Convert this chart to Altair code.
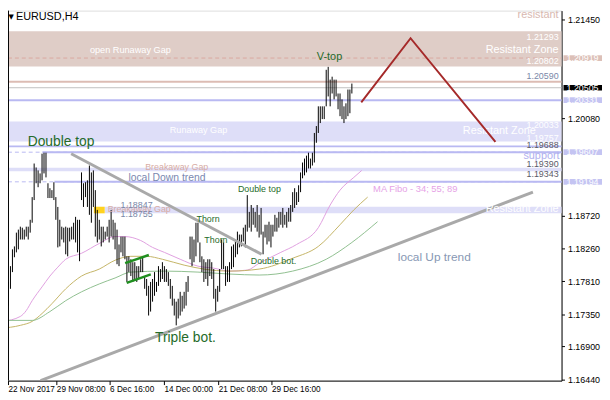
import altair as alt
import pandas as pd

# ---------------- data ----------------
high = [
1.17496,1.17606,1.17744,1.17799,1.18019,1.18253,1.18294,1.18486,1.18528,1.18569,
1.18555,1.18528,1.18569,1.18569,1.18665,1.18981,1.19449,1.19394,1.19353,1.19311,
1.19586,1.19600,1.19600,1.19174,1.19105,1.19078,1.19188,1.18981,1.18844,1.18665,
1.18569,1.18555,1.18569,1.18555,1.18555,1.18569,1.18624,1.18706,1.18665,1.18665,
1.19325,1.19174,1.19188,1.19215,1.19421,1.19325,1.19353,1.19078,1.18803,1.18665,
1.18569,1.18569,1.18500,1.18569,1.18665,1.18803,1.18665,1.18624,1.18528,1.18321,
1.18431,1.18431,1.18431,1.18156,1.18156,1.18115,1.18074,1.18074,1.18019,1.18019,
1.18115,1.18156,1.17881,1.17840,1.17744,1.17799,1.17840,1.17936,1.17799,1.18019,
1.17978,1.18074,1.18019,1.17978,1.17936,1.17840,1.17744,1.17565,1.17524,1.17565,
1.17661,1.17606,1.17661,1.17799,1.17881,1.18431,1.18431,1.18390,1.18624,1.18624,
1.18349,1.18156,1.18115,1.18074,1.18115,1.18115,1.18074,1.17978,1.17703,1.17744,
1.17978,1.18390,1.18349,1.18019,1.18019,1.18074,1.18294,1.18321,1.18363,1.18500,
1.18459,1.18459,1.18555,1.18596,1.19009,1.18775,1.18871,1.18830,1.18775,1.18871,
1.18734,1.18830,1.18500,1.18596,1.18596,1.18638,1.18596,1.18596,1.18734,1.18693,
1.18775,1.18775,1.18830,1.18734,1.18775,1.18830,1.18871,1.19050,1.19105,1.19050,
1.19146,1.19325,1.19463,1.19518,1.19559,1.19600,1.19518,1.19600,1.19875,1.19971,
1.20246,1.20246,1.20246,1.20246,1.20755,1.20796,1.20618,1.20659,1.20618,1.20618,
1.20425,1.20425,1.20343,1.20246,1.20288,1.20480,1.20480,1.20563]
low = [
1.17318,1.17386,1.17386,1.17469,1.17703,1.17936,1.18143,1.18211,1.18253,1.18390,
1.18390,1.18390,1.18431,1.18390,1.18486,1.18624,1.18940,1.19174,1.19119,1.19174,
1.19215,1.19311,1.19256,1.18968,1.18968,1.18968,1.18940,1.18665,1.18280,1.18294,
1.18390,1.18349,1.18184,1.18156,1.18363,1.18390,1.18390,1.18349,1.18211,1.18088,
1.18940,1.18844,1.18981,1.18844,1.18734,1.18624,1.18844,1.18431,1.18349,1.18390,
1.18294,1.18349,1.18390,1.18431,1.18349,1.18431,1.18390,1.18253,1.18046,1.18019,
1.18211,1.18156,1.18115,1.17799,1.17936,1.17881,1.17799,1.17840,1.17799,1.17840,
1.17936,1.17936,1.17703,1.17606,1.17331,1.17386,1.17524,1.17606,1.17661,1.17744,
1.17799,1.17840,1.17799,1.17799,1.17744,1.17565,1.17469,1.17331,1.17194,1.17290,
1.17331,1.17386,1.17428,1.17469,1.17661,1.18115,1.18019,1.18074,1.18156,1.18349,
1.18074,1.17936,1.17799,1.17840,1.17744,1.17881,1.17840,1.17565,1.17386,1.17524,
1.17661,1.17978,1.17978,1.17744,1.17799,1.17799,1.17978,1.18005,1.18143,1.18184,
1.18280,1.18294,1.18363,1.18280,1.18500,1.18555,1.18500,1.18596,1.18555,1.18500,
1.18418,1.18459,1.18184,1.18418,1.18321,1.18363,1.18280,1.18431,1.18500,1.18500,
1.18555,1.18596,1.18555,1.18596,1.18555,1.18638,1.18638,1.18775,1.18830,1.18871,
1.18913,1.19050,1.19243,1.19284,1.19325,1.19380,1.19380,1.19421,1.19463,1.19738,
1.19875,1.20013,1.20068,1.20068,1.20246,1.20384,1.20246,1.20425,1.20343,1.20384,
1.20205,1.20109,1.20068,1.20013,1.20068,1.20109,1.20150,1.20425]

# Moving averages (MA Fibo 34 / 55 / 89), read at bar indices
ma34_bar = [0, 9, 12, 15, 20, 24, 28, 32, 40, 49, 57, 62, 70, 76, 82, 90, 99, 107, 115, 124, 130, 141, 149, 160, 166, 171, 178, 182]
ma34_val = [1.17249, 1.17318, 1.17400, 1.17538, 1.17730, 1.17881, 1.18005, 1.18115, 1.18198, 1.18335, 1.18431, 1.18431, 1.18376, 1.18280,
            1.18211, 1.18115, 1.18019, 1.17991, 1.17950, 1.17964, 1.18060, 1.18211, 1.18321, 1.18555, 1.18871, 1.19078, 1.19256, 1.19353]
ma55_bar = [-1, 9, 15, 20, 25, 32, 40, 49, 57, 65, 73, 81, 92, 102, 115, 130, 147, 160, 171, 178, 185]
ma55_val = [1.17153, 1.17194, 1.17249, 1.17359, 1.17496, 1.17703, 1.17881, 1.17978, 1.18101, 1.18156, 1.18156, 1.18115, 1.18033, 1.17978,
            1.17950, 1.17978, 1.18129, 1.18294, 1.18596, 1.18803, 1.18981]
ma89_bar = [-1, 15, 24, 32, 40, 49, 57, 65, 82, 99, 115, 130, 147, 164, 177, 190]
ma89_val = [1.17263, 1.17263, 1.17386, 1.17538, 1.17661, 1.17771, 1.17854, 1.17936, 1.17950, 1.17936, 1.17909, 1.17895, 1.17950, 1.18115,
            1.18349, 1.18638]

# zones and levels
zone_top = [1.21293, 1.20033, 1.19390]
zone_bot = [1.20802, 1.19757, 1.19343]
zone_col = ["#dfcdc7", "#dedef8", "#dedef8"]
level_price = [1.20590, 1.20505, 1.20331, 1.19688]
level_col = ["#dcbcb4", "#c0c0c0", "#b9b9f2", "#b9b9f2"]
level_w = [2, 1, 2, 2]
dash_price = [1.20919, 1.19607, 1.19194]
dash_col = ["#d9a9a0", "#b9b9f2", "#b9b9f2"]
ray_price = [1.19607, 1.19194]
ray_start = [20.25, 26.25]
gap_hi, gap_lo = 1.18847, 1.18755
gap_start, gap_end = 46.25, 51.75

# right-side price tags
tag_price = [1.20919, 1.20505, 1.20331, 1.19607, 1.19194]
tag_col = ["#dcc0b8", "#000000", "#c4c4f2", "#c4c4f2", "#c4c4f2"]

# trend lines / drawings
down_bar, down_val = [34.75, 131.25], [1.19586, 1.18184]
up_bar, up_val = [19.25, 268.75], [1.16424, 1.19050]
flag_hi_bar, flag_hi_val = [62.1, 74.1], [1.18060, 1.18174]
flag_lo_bar, flag_lo_val = [62.9, 75.1], [1.17785, 1.17905]
proj_bar, proj_val = [181.75, 206.75, 249.75], [1.20301, 1.21195, 1.19751]

# axis labels
price_ticks = [1.2145, 1.2008, 1.1872, 1.1826, 1.1781, 1.1735, 1.1690, 1.1644]
date_bar = [2.75, 27.25, 54.25, 81.75, 109.25, 136.25]
date_text = ["22 Nov 2017", "29 Nov 08:00", "6 Dec 16:00", "14 Dec 00:00", "21 Dec 08:00", "29 Dec 16:00"]

GREEN = "#256b2a"
WHITE = "#ffffff"
SLATE = "#7a88a8"
DARK = "#5a5a68"
notes_left = [
    ("Double top", 12.75, 1.19751, GREEN, 14),
    ("Triple bot.", 77.25, 1.17015, GREEN, 14),
    ("V-top", 159.25, 1.20934, GREEN, 11),
    ("Double top", 119.25, 1.19091, GREEN, 9),
    ("Thorn", 98.25, 1.18679, GREEN, 9),
    ("Thorn", 102.25, 1.18376, GREEN, 9),
    ("Double bot.", 125.75, 1.18088, GREEN, 9),
    ("local Down trend", 63.75, 1.19243, "#7a88b0", 10.5),
    ("Breakaway Gap", 72.25, 1.19394, "#d8aca4", 9),
    ("Breakaway Gap", 53.25, 1.18816, "#d8aca4", 9),
    ("1.18847", 59.75, 1.18871, SLATE, 9),
    ("1.18755", 59.75, 1.18741, SLATE, 9),
    ("open Runaway Gap", 44.25, 1.21030, WHITE, 9.3),
    ("Runaway Gap", 84.75, 1.19909, WHITE, 9.2),
    ("Resistant Zone", 233.25, 1.19903, WHITE, 11),
    ("MA Fibo - 34; 55; 89", 187.75, 1.19091, "#e6a3e6", 9.5),
    ("local Up trend", 200.25, 1.18149, "#8898b4", 12),
]
notes_right = [
    ("Resistant Zone", 281.75, 1.21030, WHITE, 11),
    ("Resistant Zone", 281.75, 1.18809, WHITE, 11),
    ("resistant", 281.75, 1.21522, "#d8b8b0", 11),
    ("support", 282.25, 1.19555, "#b0b0ee", 11),
    ("1.21293", 281.75, 1.21213, WHITE, 9),
    ("1.20802", 281.75, 1.20879, WHITE, 9),
    ("1.20590", 281.75, 1.20663, SLATE, 9),
    ("1.20033", 281.75, 1.19985, WHITE, 9),
    ("1.19757", 281.75, 1.19810, WHITE, 9),
    ("1.19688", 281.75, 1.19706, DARK, 9),
    ("1.19390", 281.75, 1.19445, DARK, 9),
    ("1.19343", 281.75, 1.19307, DARK, 9),
]

# ---------------- chart ----------------
W, H = 561, 375
FONT = "Liberation Sans"
xs = alt.Scale(domain=[2.75, 283.25], nice=False, zero=False)
ys = alt.Scale(domain=[1.1642375, 1.2158], nice=False, zero=False)

AX = alt.Axis(
    values=date_bar, title=None, orient="bottom", grid=False,
    labelExpr="{" + ",".join(f"'{v}':'{t}'" for v, t in zip(date_bar, date_text)) + "}[''+datum.value]",
    labelAlign="left", labelPadding=0, tickSize=4, labelFont=FONT, labelFontSize=8.3,
    labelColor="black", tickColor="black", domainColor="black", labelFlush=False, labelOverlap=False)
AY = alt.Axis(
    values=price_ticks, format=".5f", orient="right", title=None, grid=False, tickSize=3,
    labelPadding=3, labelFont=FONT, labelFontSize=9, labelColor="black", tickColor="black",
    domainColor="black", labelFlush=False, labelOverlap=False)


def X(f="x"):
    return alt.X(f"{f}:Q", scale=xs, axis=AX)


def Y(f="y"):
    return alt.Y(f"{f}:Q", scale=ys, axis=AY)


bars_df = pd.DataFrame({"x": list(range(len(high))), "hi": high, "lo": low})

zones = alt.Chart(pd.DataFrame({"t": zone_top, "b": zone_bot, "c": zone_col})).mark_rect().encode(
    x=alt.value(0), x2=alt.value(W), y=Y("t"), y2="b:Q", color=alt.Color("c:N", scale=None))

gap_band = alt.Chart(pd.DataFrame({"x": [gap_end], "t": [gap_hi], "b": [gap_lo]})).mark_rect(color="#dedef8").encode(
    x=X("x"), x2=alt.value(W), y=Y("t"), y2="b:Q")
gap_yellow = alt.Chart(pd.DataFrame({"x": [gap_start], "x2": [gap_end], "t": [gap_hi], "b": [gap_lo]})).mark_rect(
    color="#ffd21f").encode(x=X("x"), x2="x2:Q", y=Y("t"), y2="b:Q")

levels = alt.Chart(pd.DataFrame({"y": level_price, "c": level_col, "w": level_w})).mark_rule().encode(
    x=alt.value(0), x2=alt.value(W), y=Y(), color=alt.Color("c:N", scale=None),
    size=alt.Size("w:Q", scale=None))
dashed = alt.Chart(pd.DataFrame({"y": dash_price, "c": dash_col})).mark_rule(strokeDash=[4, 3], strokeWidth=1).encode(
    x=alt.value(0), x2=alt.value(W), y=Y(), color=alt.Color("c:N", scale=None))
rays = alt.Chart(pd.DataFrame({"x": ray_start, "y": ray_price})).mark_rule(color="#b9b9f2", strokeWidth=2).encode(
    x=X(), x2=alt.value(W), y=Y())


def line(xv, yv, color, w, interp="linear", clip=True):
    return alt.Chart(pd.DataFrame({"x": xv, "y": yv})).mark_line(
        color=color, strokeWidth=w, interpolate=interp, clip=clip).encode(x=X(), y=Y())


ma34 = line(ma34_bar, ma34_val, "#e0a0e0", 1, "monotone")
ma55 = line(ma55_bar, ma55_val, "#c4b466", 1, "monotone")
ma89 = line(ma89_bar, ma89_val, "#8fbf8f", 1, "monotone")

bars = alt.Chart(bars_df).mark_rule(color="black", strokeWidth=1).encode(
    x=X("x"), y=Y("lo"), y2="hi:Q")

down = line(down_bar, down_val, "#a9a9a9", 3)
up = line(up_bar, up_val, "#a9a9a9", 3)
flag1 = line(flag_hi_bar, flag_hi_val, "#1f8f1f", 2.5)
flag2 = line(flag_lo_bar, flag_lo_val, "#1f8f1f", 2.5)
proj = line(proj_bar, proj_val, "#a52a2a", 2)


def notes(rows, align):
    df = pd.DataFrame(rows, columns=["t", "x", "y", "c", "s"])
    return alt.Chart(df).mark_text(align=align, baseline="middle", font=FONT).encode(
        x=X(), y=Y(), text="t:N", color=alt.Color("c:N", scale=None), size=alt.Size("s:Q", scale=None))


tags_df = pd.DataFrame({"p": tag_price, "c": tag_col, "t": [f"{p:.5f}" for p in tag_price]})
tag_box = alt.Chart(tags_df).transform_calculate(a="datum.p - 0.0004", b="datum.p + 0.0004").mark_rect().encode(
    x=alt.value(W + 2), x2=alt.value(W + 41), y=Y("a"), y2="b:Q", color=alt.Color("c:N", scale=None))
tag_txt = alt.Chart(tags_df).mark_text(align="left", baseline="middle", font=FONT, fontSize=9, color="white").encode(
    x=alt.value(W + 5), y=Y("p"), text="t:N")

border = alt.Chart(pd.DataFrame({"v": [0]})).mark_rule(color="black").encode(
    x=alt.value(0.5), y=alt.value(0), y2=alt.value(H))
title = alt.Chart(pd.DataFrame({"t": ["EURUSD,H4"]})).mark_text(
    align="left", baseline="top", font=FONT, fontSize=11, color="black").encode(
    x=alt.value(8), y=alt.value(1), text="t:N")
tri = alt.Chart(pd.DataFrame({"t": ["\u25bc"]})).mark_text(
    align="left", baseline="top", font="DejaVu Sans", fontSize=7, color="black").encode(
    x=alt.value(0.5), y=alt.value(3), text="t:N")

chart = alt.layer(
    zones, gap_band, gap_yellow, levels, dashed, rays, ma34, ma55, ma89, bars, down, up, flag1, flag2,
    notes(notes_left, "left"), notes(notes_right, "right"), proj, tag_box, tag_txt, border, title, tri
).properties(
    width=W, height=H,
    autosize=alt.AutoSizeParams(type="none"),
    padding={"left": 0, "top": 0, "right": 41, "bottom": 17},
).configure_view(stroke=None).configure(background="white")

chart.save("out.html", embed_options={"renderer": "svg", "actions": False})
